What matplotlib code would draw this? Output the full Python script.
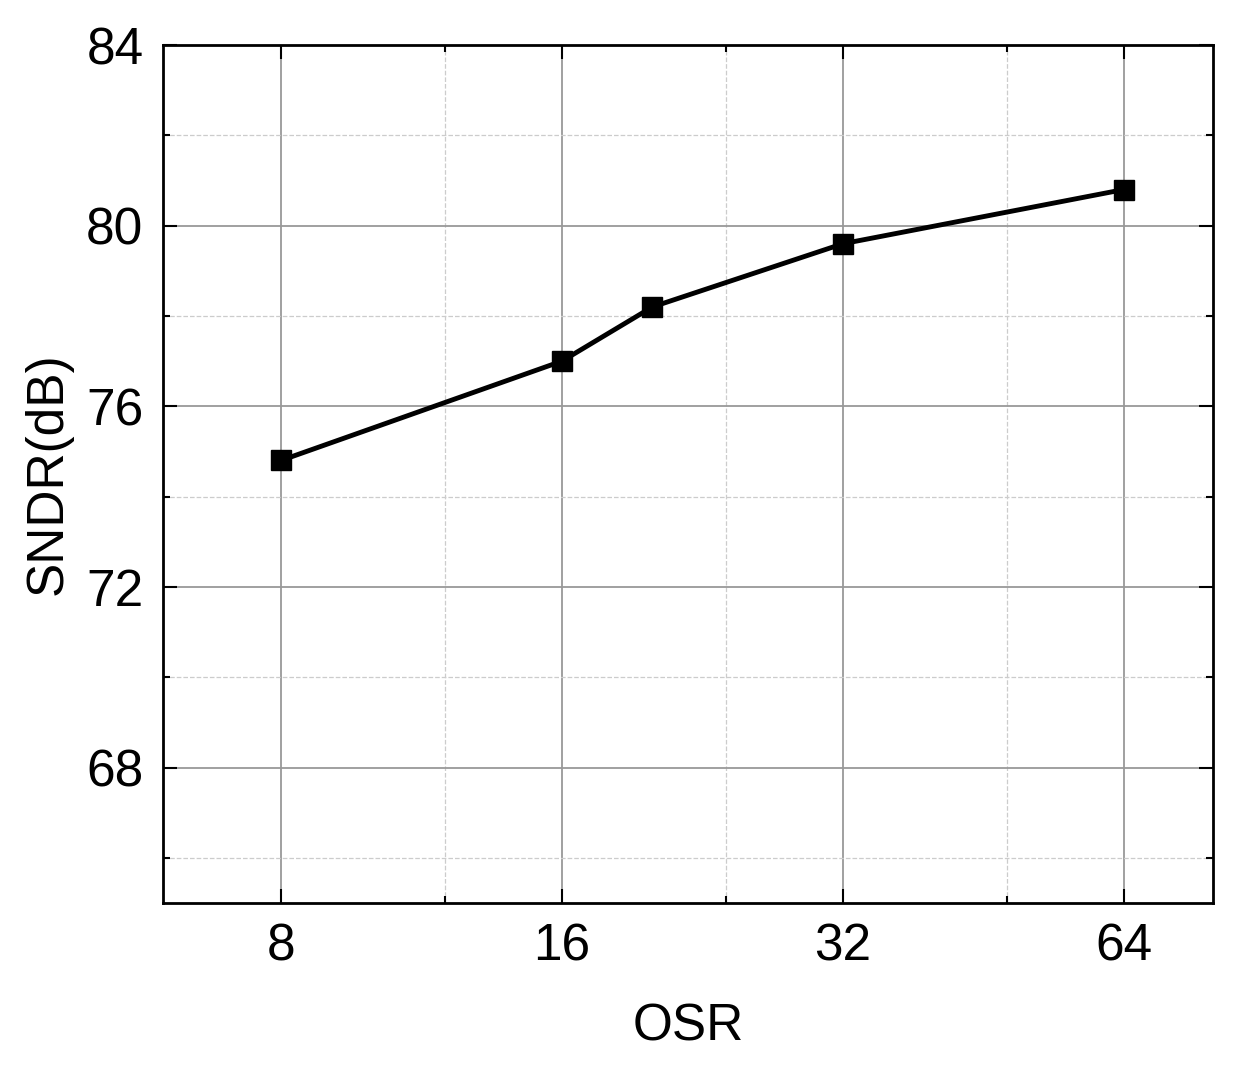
import matplotlib
matplotlib.use("Agg")
import matplotlib.pyplot as plt
from matplotlib.ticker import FixedLocator, NullFormatter

osr = [8, 16, 20, 32, 64]
sndr = [74.8, 77.0, 78.2, 79.6, 80.8]
xticks = [8, 16, 32, 64]
xminor = [12, 24, 48]
yticks = [68, 72, 76, 80, 84]
yminor = [66, 70, 74, 78, 82]

plt.rcParams["font.family"] = ["Liberation Sans", "DejaVu Sans"]

fig = plt.figure(figsize=(12.41, 10.72), dpi=100)
ax = fig.add_axes([0.1313, 0.1576, 0.8461, 0.8004])

ax.plot(osr, sndr, color="black", lw=3.5, marker="s", ms=14, zorder=3)

ax.set_xscale("log", base=2)
ax.set_xlim(2 ** 2.58, 2 ** 6.317)
ax.set_ylim(65, 84)
ax.xaxis.set_major_locator(FixedLocator(xticks))
ax.xaxis.set_minor_locator(FixedLocator(xminor))
ax.xaxis.set_minor_formatter(NullFormatter())
ax.set_xticklabels([str(v) for v in xticks])
ax.yaxis.set_major_locator(FixedLocator(yticks))
ax.yaxis.set_minor_locator(FixedLocator(yminor))

ax.grid(which="major", color="#999999", lw=1.3)
ax.grid(which="minor", color="#cccccc", lw=0.9, ls="--")

ax.tick_params(which="both", direction="in", top=True, right=True, width=1.5)
ax.tick_params(which="major", length=10, labelsize=37, pad=14)
ax.tick_params(which="minor", length=5)
for s in ax.spines.values():
    s.set_linewidth(2)

ax.set_xlabel("OSR", fontsize=37, labelpad=22)
ax.set_ylabel("SNDR(dB)", fontsize=37, labelpad=10)

fig.savefig("out.png", dpi=100)
